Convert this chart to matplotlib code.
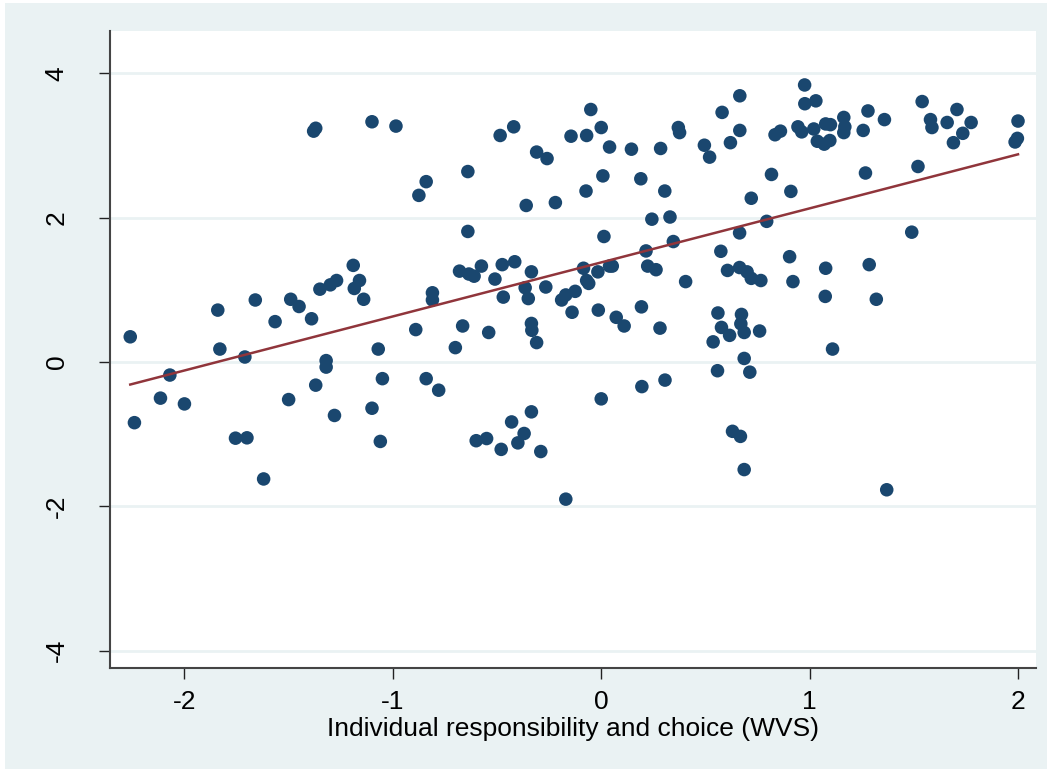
import matplotlib
matplotlib.use('Agg')
import matplotlib.pyplot as plt
import matplotlib.patches as patches
import numpy as np

## --- Data --- ##

# Individual responsibility and choice (WVS) score per country
wvs_score = [
    -2.26, -2.24, -2.115, -2.07, -2.00, -1.84, -1.83, -1.71, -1.755, -1.70,
    -1.66, -1.62, -1.565, -1.49, -1.45, -1.50, -1.39, -1.37, -1.32, -1.32,
    -1.28, -1.35, -1.30, -1.27, -1.19, -1.185, -1.16, -1.14, -1.38, -1.37,
    -1.10, -0.985, -0.84, -0.875, -0.64, -0.485, -0.42, -0.31, -0.26, -0.36,
    -0.22, -0.05, -0.145, -0.07, 0.0, 0.04, 0.008, -0.073, -0.64, 0.013,
    -0.81, -0.81, -0.89, -1.07, -0.665, -0.70, -0.54, -0.68, -0.635, -0.61,
    -0.575, -0.51, -0.475, -0.415, -0.335, -0.47, -0.365, -0.35, -0.266, -0.335,
    -0.333, -0.31, -0.19, -0.17, -0.125, -0.14, -0.085, -0.07, -0.06, -0.016,
    -0.014, 0.04, -1.05, -1.10, -1.06, -0.84, -0.78, -0.60, -0.55, -0.48,
    -0.43, -0.40, -0.37, -0.335, -0.29, -0.17, 0.0,
    0.145, 0.285, 0.37, 0.376, 0.495, 0.52, 0.58, 0.665, 0.665, 0.62,
    0.976, 0.977, 1.03, 0.834, 0.86, 0.944, 0.962, 1.02, 1.037, 1.07,
    1.077, 1.097, 1.10, 1.164, 1.169, 1.164, 1.257, 1.28, 1.359, 1.54,
    1.58, 1.587, 1.66, 1.707, 1.775, 1.735, 1.69, 2.00, 1.997, 1.986,
    0.19, 0.305, 0.817, 0.91, 0.72, 1.268, 1.52, 0.243, 0.33, 0.794,
    0.664, 0.215, 0.346, 0.574, 0.904, 1.077, 1.286, 1.49, 0.053, 0.223,
    0.263, 0.405, 0.606, 0.664, 0.70, 0.72, 0.766, 0.92, 1.075, 1.32,
    1.11, 0.072, 0.11, 0.193, 0.282, 0.56, 0.577, 0.616, 0.673, 0.67,
    0.686, 0.76, 0.537, 0.686, 0.558, 0.713, 0.195, 0.306, 0.63, 0.668,
    0.686, 1.37,
]

outcome = [
    0.35, -0.84, -0.50, -0.18, -0.58, 0.72, 0.18, 0.07, -1.055, -1.05,
    0.86, -1.62, 0.56, 0.87, 0.77, -0.52, 0.60, -0.32, 0.02, -0.07,
    -0.74, 1.01, 1.07, 1.13, 1.34, 1.02, 1.13, 0.87, 3.20, 3.24,
    3.33, 3.27, 2.50, 2.31, 2.64, 3.14, 3.26, 2.91, 2.82, 2.17,
    2.21, 3.50, 3.13, 3.14, 3.25, 2.98, 2.58, 2.37, 1.81, 1.74,
    0.96, 0.86, 0.45, 0.18, 0.50, 0.20, 0.41, 1.26, 1.22, 1.19,
    1.33, 1.15, 1.35, 1.39, 1.25, 0.90, 1.03, 0.88, 1.04, 0.535,
    0.44, 0.27, 0.86, 0.93, 0.98, 0.69, 1.30, 1.13, 1.09, 1.25,
    0.72, 1.33, -0.23, -0.64, -1.10, -0.23, -0.39, -1.09, -1.06, -1.21,
    -0.83, -1.12, -0.99, -0.69, -1.24, -1.90, -0.51,
    2.95, 2.96, 3.25, 3.18, 3.005, 2.84, 3.46, 3.69, 3.21, 3.04,
    3.84, 3.58, 3.62, 3.15, 3.20, 3.26, 3.19, 3.23, 3.06, 3.02,
    3.30, 3.07, 3.29, 3.39, 3.26, 3.18, 3.21, 3.48, 3.36, 3.61,
    3.36, 3.25, 3.32, 3.50, 3.32, 3.17, 3.04, 3.34, 3.10, 3.05,
    2.54, 2.37, 2.60, 2.365, 2.27, 2.62, 2.71, 1.98, 2.01, 1.95,
    1.79, 1.54, 1.67, 1.535, 1.46, 1.30, 1.35, 1.80, 1.33, 1.33,
    1.28, 1.115, 1.27, 1.31, 1.25, 1.16, 1.13, 1.115, 0.91, 0.87,
    0.18, 0.62, 0.50, 0.765, 0.47, 0.68, 0.48, 0.37, 0.66, 0.53,
    0.41, 0.43, 0.28, 0.05, -0.12, -0.14, -0.34, -0.25, -0.96, -1.03,
    -1.49, -1.77,
]

x_ticks = [-2, -1, 0, 1, 2]
y_ticks = [-4, -2, 0, 2, 4]

## --- Plot --- ##

BG = '#EAF2F3'
NAVY = '#1A476F'
MAROON = '#90353B'

plt.rcParams['font.family'] = ['Liberation Sans', 'DejaVu Sans']

fig = plt.figure(figsize=(10.53, 7.69), dpi=100, facecolor='white')
# light outer region like the stata s2color scheme
fig.patches.append(patches.Rectangle((5 / 1053, 0), 1042 / 1053, 766 / 769,
                                     transform=fig.transFigure, facecolor=BG,
                                     edgecolor='none', zorder=-10))

ax = fig.add_axes([0.1049, 0.1317, 0.8785, 0.828])
ax.set_facecolor('white')

x = np.array(wvs_score)
y = np.array(outcome)

# linear fit over the observed range
slope, intercept = np.polyfit(x, y, 1)
fit_x = np.array([x.min(), x.max()])

ax.scatter(x, y, s=95, color=NAVY, edgecolors='none', zorder=3)
ax.plot(fit_x, intercept + slope * fit_x, color=MAROON, linewidth=1.8, zorder=4)

ax.set_xlim(-2.355, 2.084)
ax.set_ylim(-4.236, 4.588)
ax.set_xticks(x_ticks)
ax.set_yticks(y_ticks)
ax.set_xticklabels([str(t) for t in x_ticks], fontsize=19)
ax.set_yticklabels([str(t) for t in y_ticks], fontsize=19, rotation=90, va='center')

# horizontal grid only
ax.yaxis.grid(True, color=BG, linewidth=2)
ax.set_axisbelow(True)

for side in ['top', 'right']:
    ax.spines[side].set_visible(False)
for side in ['left', 'bottom']:
    ax.spines[side].set_color('#444444')
    ax.spines[side].set_linewidth(1.5)

ax.tick_params(axis='both', direction='out', length=8, width=1, color='#222222')
ax.tick_params(axis='x', pad=8)
ax.tick_params(axis='y', pad=22)

ax.set_xlabel('Individual responsibility and choice (WVS)', fontsize=19, labelpad=2)

fig.savefig('out.png', dpi=100, facecolor=fig.get_facecolor())
